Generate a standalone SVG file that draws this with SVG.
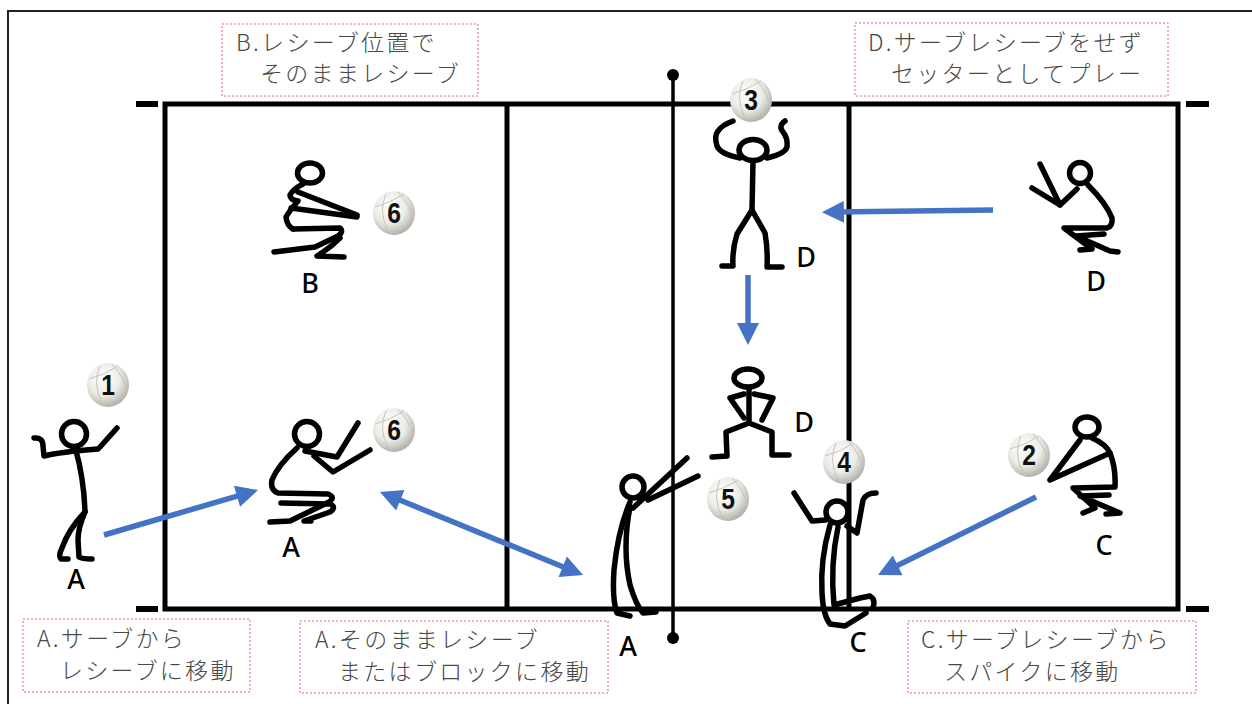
<svg xmlns="http://www.w3.org/2000/svg" width="1252" height="704" viewBox="0 0 1252 704">
<defs>
<style>
.court{fill:none;stroke:#000;stroke-width:5}
.fig{fill:none;stroke:#000;stroke-width:5.5;stroke-linecap:round;stroke-linejoin:round}
.box{fill:none;stroke:#e06666;stroke-width:1;stroke-dasharray:2 2}
.note{font-family:"Noto Sans CJK JP","Noto Sans",sans-serif;font-size:23px;font-weight:300;letter-spacing:2.3px;fill:#484848}
.lbl{font-family:"Noto Sans","Liberation Sans",sans-serif;font-size:27px;font-weight:500;fill:#000;text-anchor:middle}
.num{font-family:"Liberation Sans",sans-serif;font-size:29px;font-weight:bold;fill:#111;text-anchor:middle}
.arr{fill:none;stroke:#4472c4;stroke-width:5.5}
.seam{fill:none;stroke:#c4c4bc;stroke-width:1}
</style>
<radialGradient id="bg" cx="0.4" cy="0.35" r="0.7">
<stop offset="0" stop-color="#ffffff"/>
<stop offset="0.55" stop-color="#ecece6"/>
<stop offset="1" stop-color="#a9a9a2"/>
</radialGradient>
<marker id="ah" viewBox="0 0 10 10" refX="4.5" refY="5" markerWidth="23" markerHeight="22" markerUnits="userSpaceOnUse" orient="auto-start-reverse">
<path d="M0,0 L10,5 L0,10 z" fill="#4472c4"/>
</marker>
<g id="ball">
<ellipse cx="0" cy="0" rx="21" ry="22" fill="url(#bg)"/>
<path class="seam" d="M-8,-19 Q-16,-2 -6,18 M4,-21 Q16,-8 19,6 M-19,-6 Q-4,-10 10,-19"/>
</g>
</defs>
<rect width="1252" height="704" fill="#fff"/>
<path d="M8,704 V11 H1252" fill="none" stroke="#222" stroke-width="2"/>

<g id="court">
<rect class="court" x="165" y="104" width="1013" height="505"/>
<line class="court" x1="507" y1="104" x2="507" y2="609"/>
<line class="court" x1="849" y1="104" x2="849" y2="609"/>
<g stroke="#000" stroke-width="6">
<line x1="136" y1="104" x2="158" y2="104"/>
<line x1="136" y1="609" x2="158" y2="609"/>
<line x1="1186" y1="104" x2="1209" y2="104"/>
<line x1="1186" y1="609" x2="1209" y2="609"/>
</g>
</g>
<g id="net">
<line x1="673" y1="75" x2="673" y2="638" stroke="#000" stroke-width="3.5"/>
<circle cx="673" cy="75" r="6"/>
<circle cx="673" cy="638" r="6"/>
</g>

<g id="note-b">
<rect class="box" x="222" y="24" width="256" height="72"/>
<text class="note" x="236" y="51">B.レシーブ位置で</text>
<text class="note" x="260" y="82">そのままレシーブ</text>
</g>
<g id="note-d">
<rect class="box" x="855" y="23" width="313" height="73"/>
<text class="note" x="868" y="51">D.サーブレシーブをせず</text>
<text class="note" x="891" y="82">セッターとしてプレー</text>
</g>
<g id="note-a1">
<rect class="box" x="23" y="619" width="227" height="73"/>
<text class="note" x="37" y="647">A.サーブから</text>
<text class="note" x="60" y="679">レシーブに移動</text>
</g>
<g id="note-a2">
<rect class="box" x="300" y="621" width="308" height="72"/>
<text class="note" x="315" y="648">A.そのままレシーブ</text>
<text class="note" x="338" y="680">またはブロックに移動</text>
</g>
<g id="note-c">
<rect class="box" x="908" y="621" width="288" height="72"/>
<text class="note" x="921" y="648">C.サーブレシーブから</text>
<text class="note" x="944" y="680">スパイクに移動</text>
</g>

<g id="connectors">
<line class="arr" x1="104" y1="535" x2="246.5" y2="493.4" marker-end="url(#ah)"/>
<line class="arr" x1="391.1" y1="496.5" x2="571.9" y2="570.5" marker-start="url(#ah)" marker-end="url(#ah)"/>
<line class="arr" x1="993" y1="210" x2="834" y2="212" marker-end="url(#ah)"/>
<line class="arr" x1="748" y1="275" x2="748" y2="333" marker-end="url(#ah)"/>
<line class="arr" x1="1036" y1="497" x2="888.8" y2="569.7" marker-end="url(#ah)"/>
</g>

<g id="player-a-serve">
<circle class="fig" cx="74" cy="434" r="12.5"/>
<path class="fig" d="M34,438 Q43,437 43,446 L44,456 Q60,452 98,449"/>
<path class="fig" d="M100,447 L117,428"/>
<path class="fig" d="M75,447 Q84,478 85,512 Q68,530 62,548 Q58,556 61,559 L68,559"/>
<path class="fig" d="M85,512 Q78,528 78,540 L79,557 Q82,559 92,559"/>
<text class="lbl" x="76" y="589">A</text>
</g>

<g id="player-a-receive">
<circle class="fig" cx="307" cy="434" r="12.5"/>
<path class="fig" d="M297,448 Q278,465 272,480 Q270,490 278,493 L328,494 Q336,497 329,502 L290,521 L270,522"/>
<path class="fig" d="M281,503 L330,504 Q337,507 330,512 L304,521 L311,521"/>
<path class="fig" d="M305,451 L337,457 L358,423"/>
<path class="fig" d="M314,456 L333,472 L370,450"/>
<text class="lbl" x="291" y="557">A</text>
</g>

<g id="player-b">
<ellipse class="fig" cx="310" cy="173" rx="12.5" ry="10"/>
<path class="fig" d="M303,184 Q293,189 290,195 Q290,200 298,201 Q290,210 286,217 Q287,226 293,229"/>
<path class="fig" d="M298,192 L357,215"/>
<path class="fig" d="M291,208 L357,217"/>
<path class="fig" d="M293,229 L340,228 Q344,232 338,236 L315,247 L274,252"/>
<path class="fig" d="M340,238 Q330,248 317,256 L344,257"/>
<text class="lbl" x="310" y="293">B</text>
</g>

<g id="player-d-set">
<ellipse class="fig" cx="753" cy="150" rx="14" ry="10.5"/>
<path class="fig" d="M740,158 Q720,154 717,146 Q714,136 718,131 Q722,125 733,121"/>
<path class="fig" d="M767,158 Q785,154 787,147 Q788,138 783,132 Q778,126 785,121"/>
<path class="fig" d="M753,161 L752,210"/>
<path class="fig" d="M752,210 L737,234 Q732,250 733,266 L722,266"/>
<path class="fig" d="M752,210 L765,233 Q768,250 767,267 L782,267"/>
<text class="lbl" x="806" y="267">D</text>
</g>

<g id="player-d-mid">
<ellipse class="fig" cx="748" cy="378" rx="14" ry="9"/>
<path class="fig" d="M749,388 L749,423"/>
<path class="fig" d="M744,394 L730,398 L744,418"/>
<path class="fig" d="M754,394 L773,398 L762,420"/>
<path class="fig" d="M749,423 L726,432 L727,456 L712,457"/>
<path class="fig" d="M749,423 L772,432 L772,455 L789,455"/>
<text class="lbl" x="804" y="432">D</text>
</g>

<g id="player-a-block">
<circle class="fig" cx="633" cy="487" r="11"/>
<path class="fig" d="M633,508 L687,458"/>
<path class="fig" d="M648,500 L698,476"/>
<path class="fig" d="M630,502 Q618,530 614,570 Q612,600 617,613 L630,616"/>
<path class="fig" d="M630,507 Q622,548 630,585 Q636,605 643,613 L656,612"/>
<text class="lbl" x="628" y="656">A</text>
</g>

<g id="player-c-spike">
<circle class="fig" cx="837" cy="512" r="11"/>
<path class="fig" d="M826,520 L812,521 L794,493"/>
<path class="fig" d="M847,526 L857,533 L863,500 Q866,493 876,493"/>
<path class="fig" d="M830,525 Q820,560 822,593 Q823,615 830,624 L845,626 L866,613"/>
<path class="fig" d="M838,527 Q830,565 834,605 L860,598 L870,596 Q876,600 873,607"/>
<text class="lbl" x="858" y="652">C</text>
</g>

<g id="player-d-right">
<circle class="fig" cx="1080" cy="173" r="10.5"/>
<path class="fig" d="M1077,189 L1060,205 L1032,188"/>
<path class="fig" d="M1060,205 L1040,164"/>
<path class="fig" d="M1088,185 Q1106,203 1112,218 Q1113,226 1107,228 L1064,228 L1092,249 L1080,250"/>
<path class="fig" d="M1104,234 L1076,236 L1110,251 L1118,252"/>
<text class="lbl" x="1096" y="291">D</text>
</g>

<g id="player-c-right">
<ellipse class="fig" cx="1087" cy="427" rx="12" ry="10"/>
<path class="fig" d="M1080,440 L1050,480 L1110,453"/>
<path class="fig" d="M1092,438 Q1106,444 1110,453 Q1116,468 1115,487 L1073,488 L1095,508 L1083,513"/>
<path class="fig" d="M1109,495 L1080,496 L1120,513 L1106,514"/>
<text class="lbl" x="1104" y="555">C</text>
</g>

<g id="balls">
<g transform="translate(108,385)"><use href="#ball"/><text class="num" transform="scale(0.85,1)" x="0" y="10">1</text></g>
<g transform="translate(394,213)"><use href="#ball"/><text class="num" transform="scale(0.85,1)" x="0" y="10">6</text></g>
<g transform="translate(394,430)"><use href="#ball"/><text class="num" transform="scale(0.85,1)" x="0" y="10">6</text></g>
<g transform="translate(751,100)"><use href="#ball"/><text class="num" transform="scale(0.85,1)" x="0" y="10">3</text></g>
<g transform="translate(844,462)"><use href="#ball"/><text class="num" transform="scale(0.85,1)" x="0" y="10">4</text></g>
<g transform="translate(728,499)"><use href="#ball"/><text class="num" transform="scale(0.85,1)" x="0" y="10">5</text></g>
<g transform="translate(1029,455)"><use href="#ball"/><text class="num" transform="scale(0.85,1)" x="0" y="10">2</text></g>
</g>
</svg>
